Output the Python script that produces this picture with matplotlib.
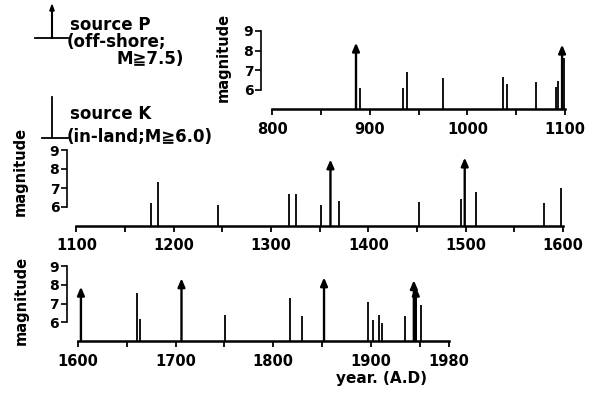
import matplotlib.pyplot as plt

plt.rcParams['font.family'] = ['DejaVu Sans', 'Noto Sans CJK JP']
plt.rcParams['font.weight'] = 'bold'

W, H = 594, 396

# source P: off-shore events (drawn as arrows)
p_years = [886, 1097, 1361, 1499, 1603, 1706, 1852, 1944, 1946]
p_mags = [8.4, 8.3, 8.5, 8.6, 7.9, 8.35, 8.4, 8.25, 7.9]

# source K: in-land events (drawn as plain lines)
k_years = [890, 934, 938, 975, 1037, 1041, 1070, 1091, 1093, 1099,
           1177, 1184, 1245, 1318, 1326, 1351, 1370, 1452, 1495, 1511, 1580, 1598,
           1660, 1664, 1751, 1817, 1829, 1897, 1902, 1908, 1911, 1935, 1951]
k_mags = [6.1, 6.1, 6.9, 6.6, 6.65, 6.3, 6.4, 6.15, 6.45, 7.6,
          6.2, 7.3, 6.1, 6.7, 6.7, 6.1, 6.3, 6.25, 6.4, 6.8, 6.2, 7.0,
          7.55, 6.15, 6.4, 7.3, 6.35, 7.1, 6.1, 6.4, 5.95, 6.35, 6.9]

# three time panels
spans = [(800, 1100), (1100, 1600), (1600, 1980)]
major_ticks = [[800, 900, 1000, 1100],
               [1100, 1200, 1300, 1400, 1500, 1600],
               [1600, 1700, 1800, 1900, 1980]]
minor_ticks = [[850, 950, 1050],
               [1150, 1250, 1350, 1450, 1550],
               [1650, 1750, 1850, 1950]]
mag_ticks = [6, 7, 8, 9]

# panel boxes in pixels: left, right, baseline y, px per magnitude unit, spine offset
boxes = [(272, 565, 109, 19.5, 11),
         (76.5, 563, 226, 19.0, 9.5),
         (78, 449, 341, 18.7, 11.3)]
ylabel_pos = [(223, 57), (20, 171), (21, 300)]

fig = plt.figure(figsize=(W / 100, H / 100), dpi=100)


def fx(x):
    return x / W


def fy(y):
    return 1 - y / H


for i, (lo, hi) in enumerate(spans):
    left, right, base, unit, off = boxes[i]
    ax = fig.add_axes([fx(left), fy(base), (right - left) / W, 4 * unit / H])
    ax.set_xlim(lo, hi)
    ax.set_ylim(5, 9)
    ax.patch.set_alpha(0)

    for s in ['top', 'right']:
        ax.spines[s].set_visible(False)
    ax.spines['bottom'].set_linewidth(1.8)
    ax.spines['left'].set_linewidth(1.2)
    ax.spines['left'].set_position(('outward', off * 0.72))
    ax.spines['left'].set_bounds(6, 9)

    ax.set_xticks(major_ticks[i])
    ax.set_xticks(minor_ticks[i], minor=True)
    ax.set_xticklabels([str(t) for t in major_ticks[i]], fontsize=10.5, fontweight='bold')
    ax.tick_params(axis='x', which='both', direction='out', length=4, width=1.3, pad=5)
    ax.set_yticks(mag_ticks)
    ax.set_yticklabels([str(t) for t in mag_ticks], fontsize=10, fontweight='bold')
    ax.tick_params(axis='y', direction='out', length=4, width=1.2, pad=1.5)

    ky = [y for y in k_years if lo <= y <= hi]
    km = [m for y, m in zip(k_years, k_mags) if lo <= y <= hi]
    ax.vlines(ky, 5, km, colors='black', lw=1.3, clip_on=False)

    for y, m in zip(p_years, p_mags):
        if lo <= y <= hi:
            ax.annotate('', xy=(y, m), xytext=(y, 5), annotation_clip=False,
                        arrowprops=dict(arrowstyle='-|>,head_length=0.7,head_width=0.3',
                                        lw=1.7, color='black', shrinkA=0, shrinkB=0,
                                        mutation_scale=7))

    lx, ly = ylabel_pos[i]
    fig.text(fx(lx), fy(ly), 'magnitude', rotation=90, ha='center', va='center',
             fontsize=10.5, fontweight='bold')

fig.text(fx(381), fy(379), 'year. (A.D)', ha='center', va='center',
         fontsize=11, fontweight='bold')

# legend: source P arrow symbol
fig.add_artist(plt.Line2D([fx(35), fx(68)], [fy(38), fy(38)], color='black', lw=1.3))
fig.add_artist(plt.Line2D([fx(52), fx(52)], [fy(38), fy(10)], color='black', lw=1.5))
fig.patches.append(plt.Polygon([[fx(49.8), fy(11)], [fx(54.2), fy(11)], [fx(52), fy(5)]],
                               closed=True, color='black', transform=fig.transFigure))
fig.text(fx(70), fy(25), 'source P', ha='left', va='center', fontsize=12, fontweight='bold')
fig.text(fx(67), fy(42), '(off-shore;', ha='left', va='center', fontsize=12, fontweight='bold')
fig.text(fx(184), fy(59), 'M≧7.5)', ha='right', va='center', fontsize=12, fontweight='bold')

# legend: source K line symbol
fig.add_artist(plt.Line2D([fx(42), fx(68)], [fy(138), fy(138)], color='black', lw=1.3))
fig.add_artist(plt.Line2D([fx(52), fx(52)], [fy(138), fy(97)], color='black', lw=1.3))
fig.text(fx(70), fy(114), 'source K', ha='left', va='center', fontsize=12, fontweight='bold')
fig.text(fx(67), fy(137), '(in-land;M≧6.0)', ha='left', va='center', fontsize=12, fontweight='bold')

fig.savefig('out.png', dpi=100)
